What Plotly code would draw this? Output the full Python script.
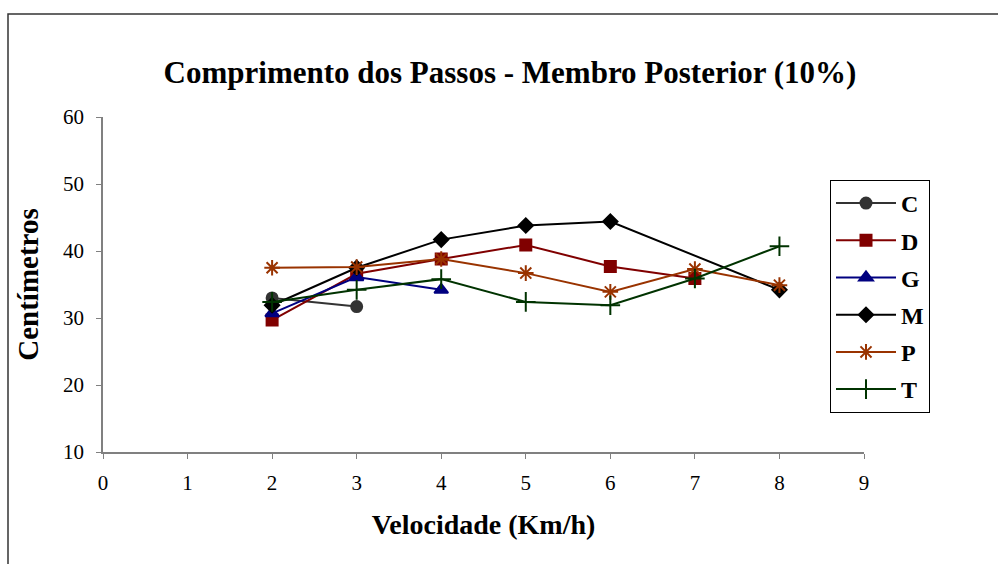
import plotly.graph_objects as go

# Data
x_C = [2, 3]
y_C = [33.0, 31.7]
x_D = [2, 3, 4, 5, 6, 7]
y_D = [29.7, 36.6, 38.8, 40.9, 37.7, 35.9]
x_G = [2, 3, 4]
y_G = [30.7, 36.1, 34.2]
x_M = [2, 3, 4, 5, 6, 8]
y_M = [31.9, 37.5, 41.7, 43.8, 44.4, 34.2]
x_P = [2, 3, 4, 5, 6, 7, 8]
y_P = [37.5, 37.6, 38.8, 36.7, 33.9, 37.3, 34.9]
x_T = [2, 3, 4, 5, 6, 7, 8]
y_T = [32.4, 34.2, 35.8, 32.4, 31.9, 35.9, 40.7]

names = ["C", "D", "G", "M", "P", "T"]
xs = [x_C, x_D, x_G, x_M, x_P, x_T]
ys = [y_C, y_D, y_G, y_M, y_P, y_T]
colors = ["#333333", "#800000", "#000080", "#000000", "#993300", "#003300"]
symbols = ["circle", "square", "triangle-up", "diamond", "asterisk-open", "cross-thin-open"]
sizes = [11, 11, 12, 11, 13, 14]

FONT = "Liberation Serif, Times New Roman, serif"

fig = go.Figure()
for n, x, y, c, s, sz in zip(names, xs, ys, colors, symbols, sizes):
    fig.add_trace(go.Scatter(
        x=x, y=y, name="<b>" + n + "</b>", mode="lines+markers", legendgroup=n,
        line=dict(color=c, width=2),
        marker=dict(symbol=s, size=sz, color=c, line=dict(color=c, width=2)),
    ))

W, H = 998, 564
L, R, T, B = 103, 864, 117, 452

fig.update_layout(
    width=W, height=H,
    margin=dict(l=L, r=W - R, t=T, b=H - B),
    paper_bgcolor="white", plot_bgcolor="white",
    font=dict(family=FONT, color="black", size=20),
    title=dict(text="<b>Comprimento dos Passos - Membro Posterior (10%)</b>",
               x=(510) / W, xanchor="center", y=1 - 72 / H, yanchor="middle",
               font=dict(family=FONT, size=31, color="black")),
    showlegend=True,
    legend=dict(
        x=(830 - L) / (R - L), y=(B - 180) / (B - T), xanchor="left", yanchor="top",
        bordercolor="#000000", borderwidth=1, bgcolor="white",
        font=dict(family=FONT, size=24, color="black"),
        traceorder="grouped", tracegroupgap=3, itemwidth=60,
    ),
    xaxis=dict(
        range=[0, 9], dtick=1, tick0=0, showgrid=False, zeroline=False,
        showline=True, linecolor="#808080", linewidth=1.5,
        ticks="outside", ticklen=5, tickcolor="#808080", tickwidth=1,
        ticklabelstandoff=6,
        tickfont=dict(family=FONT, size=21),
        title=dict(text="<b>Velocidade (Km/h)</b>", font=dict(family=FONT, size=28), standoff=20),
    ),
    yaxis=dict(
        range=[10, 60], dtick=10, tick0=10, showgrid=False, zeroline=False,
        showline=True, linecolor="#808080", linewidth=1.5,
        ticks="outside", ticklen=5, tickcolor="#808080", tickwidth=1,
        ticklabelstandoff=8,
        tickfont=dict(family=FONT, size=21),
        title=dict(text="<b>Centímetros</b>", font=dict(family=FONT, size=29), standoff=16),
    ),
)

# Outer chart-area border (right/bottom edges fall outside the picture)
fig.add_shape(type="rect", xref="paper", yref="paper",
              x0=(8 - L) / (R - L), x1=(1010 - L) / (R - L),
              y0=(B - 580) / (B - T), y1=(B - 14) / (B - T),
              line=dict(color="#333333", width=1.5), layer="below")

fig.write_html("out.html")
